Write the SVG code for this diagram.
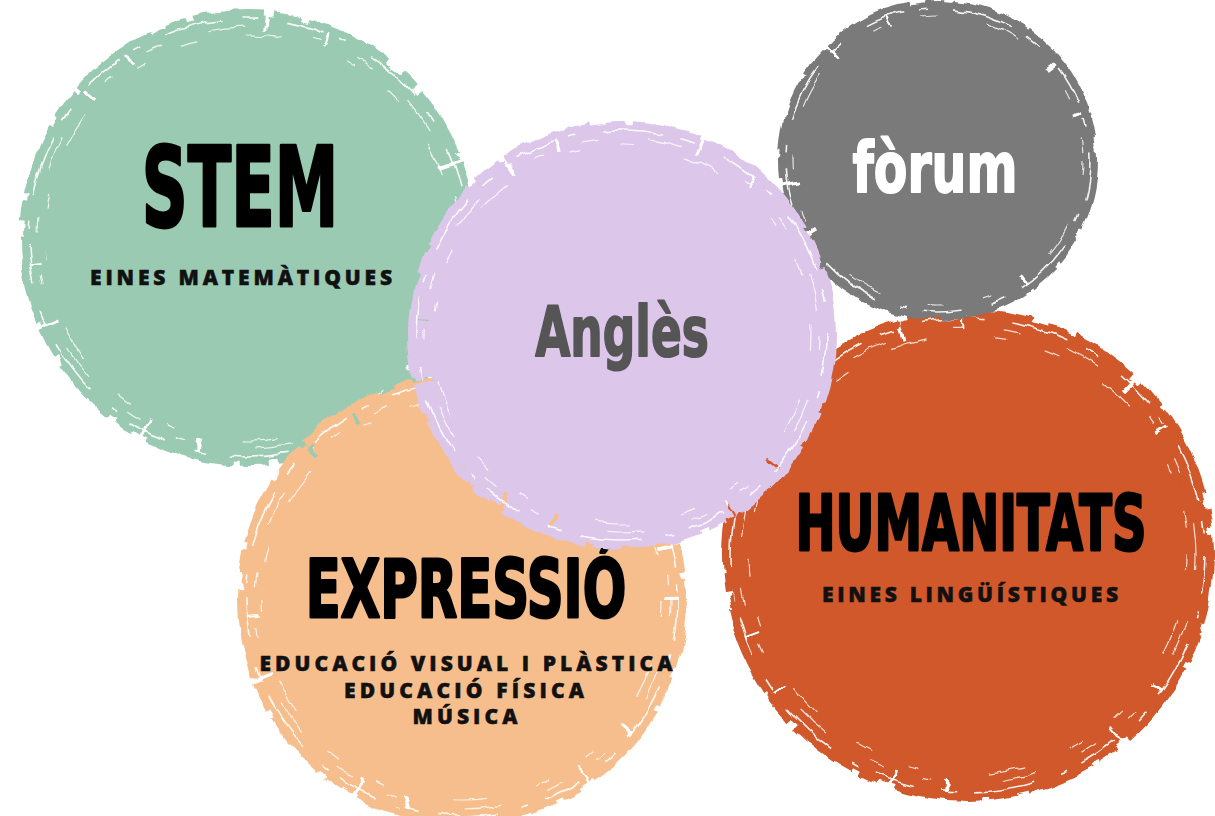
<svg xmlns="http://www.w3.org/2000/svg" width="1215" height="816" viewBox="0 0 1215 816">
<defs>
<filter id="rough" x="-20%" y="-20%" width="140%" height="140%">
<feTurbulence type="fractalNoise" baseFrequency="0.02 0.05" numOctaves="3" seed="4" result="n"/>
<feDisplacementMap in="SourceGraphic" in2="n" scale="12" xChannelSelector="R" yChannelSelector="G"/>
</filter>
<filter id="rough2" x="-20%" y="-20%" width="140%" height="140%">
<feTurbulence type="fractalNoise" baseFrequency="0.06 0.03" numOctaves="2" seed="9" result="n"/>
<feDisplacementMap in="SourceGraphic" in2="n" scale="8" xChannelSelector="R" yChannelSelector="G"/>
</filter>
</defs>
<style>
.ring{fill:none;stroke-width:20;stroke-dasharray:140 3 60 2 180 4 50 3;filter:url(#rough)}
.ring2{fill:none;stroke-width:8;stroke-dasharray:70 10 30 6 90 16 20 8;filter:url(#rough2)}
.streak{fill:none;stroke:#fff;stroke-width:1.6;stroke-dasharray:40 16 8 26 60 20 14 30;opacity:.9;filter:url(#rough2)}
.streakb{fill:none;stroke:#fff;stroke-width:1.2;stroke-dasharray:16 50 36 70 10 40;opacity:.8;filter:url(#rough2)}
.big{font-family:"DejaVu Sans",sans-serif;font-weight:bold;text-anchor:middle;stroke-linejoin:round}
.sub{font-family:"Open Sans","Liberation Sans",sans-serif;font-weight:800;fill:#111;stroke:#111;stroke-width:0.5;text-anchor:middle}
</style>
<rect width="1215" height="816" fill="#fff"/>

<g id="stem">
<circle cx="248" cy="238" r="206" fill="#9acab2" filter="url(#rough)"/>
<circle cx="248" cy="238" r="214" class="ring" stroke="#9acab2"/>
<circle cx="248" cy="238" r="224" class="ring2" stroke="#9acab2"/>
<circle cx="248" cy="238" r="219" class="streak"/>
<circle cx="248" cy="238" r="211" class="streakb"/>
<circle cx="248" cy="238" r="203" class="streakb" stroke-dasharray="12 80 30 120"/>
<text class="big" transform="translate(240,226) scale(0.58,1)" font-size="110" fill="#000" stroke="#000" stroke-width="3">STEM</text>
<text class="sub" x="241" y="285" font-size="21" textLength="302" lengthAdjust="spacing">EINES MATEMÀTIQUES</text>
</g>

<g id="expressio">
<circle cx="462" cy="600" r="203" fill="#f7be8d" filter="url(#rough)"/>
<circle cx="462" cy="600" r="211" class="ring" stroke="#f7be8d"/>
<circle cx="462" cy="600" r="221" class="ring2" stroke="#f7be8d"/>
<circle cx="462" cy="600" r="216" class="streak"/>
<circle cx="462" cy="600" r="208" class="streakb"/>
<circle cx="462" cy="600" r="200" class="streakb" stroke-dasharray="12 80 30 120"/>
<text class="big" transform="translate(466,617) scale(0.64,1)" font-size="80" fill="#000" stroke="#000" stroke-width="3">EXPRESSIÓ</text>
<text class="sub" x="466" y="671" font-size="21" textLength="413" lengthAdjust="spacing">EDUCACIÓ VISUAL I PLÀSTICA</text>
<text class="sub" x="464" y="698" font-size="21" textLength="240" lengthAdjust="spacing">EDUCACIÓ FÍSICA</text>
<text class="sub" x="465" y="724" font-size="21" textLength="105" lengthAdjust="spacing">MÚSICA</text>
</g>

<g id="humanitats">
<circle cx="968" cy="555" r="224" fill="#d0582a" filter="url(#rough)"/>
<circle cx="968" cy="555" r="232" class="ring" stroke="#d0582a"/>
<circle cx="968" cy="555" r="242" class="ring2" stroke="#d0582a"/>
<circle cx="968" cy="555" r="237" class="streak"/>
<circle cx="968" cy="555" r="228" class="streakb"/>
<circle cx="968" cy="555" r="219" class="streakb" stroke-dasharray="12 80 30 120"/>
<text class="big" transform="translate(971,550) scale(0.63,1)" font-size="76" fill="#000" stroke="#000" stroke-width="3">HUMANITATS</text>
<text class="sub" x="970" y="602" font-size="21" textLength="296" lengthAdjust="spacing">EINES LINGÜÍSTIQUES</text>
</g>

<g id="forum">
<ellipse cx="955" cy="300" rx="30" ry="14" fill="#7a7a7a" filter="url(#rough)"/>
<circle cx="938" cy="160" r="141" fill="#7a7a7a" filter="url(#rough)"/>
<circle cx="938" cy="160" r="148" class="ring" stroke="#7a7a7a"/>
<circle cx="938" cy="160" r="156" class="ring2" stroke="#7a7a7a"/>
<circle cx="938" cy="160" r="152" class="streak"/>
<circle cx="938" cy="160" r="145" class="streakb"/>
<text class="big" transform="translate(935,192) scale(0.70,1)" font-size="70" fill="#fff" stroke="#fff" stroke-width="2">fòrum</text>
</g>

<g id="angles">
<circle cx="622" cy="335" r="193" fill="#dcc6ea" filter="url(#rough)"/>
<circle cx="622" cy="335" r="201" class="ring" stroke="#dcc6ea"/>
<circle cx="622" cy="335" r="210" class="ring2" stroke="#dcc6ea"/>
<circle cx="622" cy="335" r="205" class="streak"/>
<circle cx="622" cy="335" r="197" class="streakb"/>
<circle cx="622" cy="335" r="189" class="streakb" stroke-dasharray="12 80 30 120"/>
<text class="big" transform="translate(622,356) scale(0.65,1)" font-size="70" fill="#555" stroke="#555" stroke-width="2">Anglès</text>
</g>

<g id="connectors"></g>
</svg>
